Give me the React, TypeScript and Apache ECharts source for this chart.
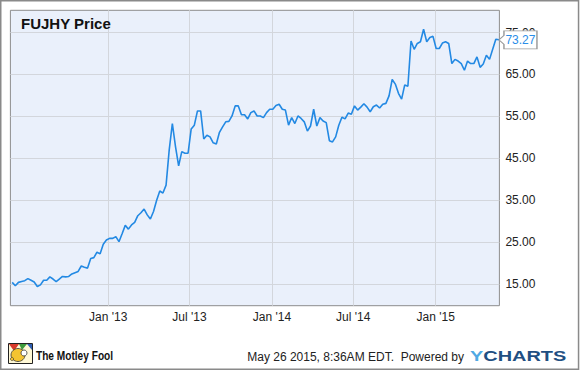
import React, { useEffect, useRef } from 'react';
import * as echarts from 'echarts';

// ---- data ----
const title = 'FUJHY Price';
const firstDate = '2012-06-01'; // weekly closes
const axisStart = '2012-05-28';
const axisEnd = '2015-05-23';
const prices = [
  15.4, 14.6, 15.4, 15.6, 15.8, 16.3, 15.9, 15.5, 14.4, 14.8,
  15.9, 15.9, 16.7, 16.2, 15.6, 16.2, 16.8, 16.7, 16.8, 17.4,
  17.7, 18.0, 19.3, 19.0, 18.8, 21.1, 21.3, 22.6, 22.2, 24.5,
  25.5, 25.9, 25.9, 26.3, 25.1, 27.0, 29.0, 28.1, 29.1, 29.7,
  31.3, 32.0, 32.9, 31.5, 30.5, 32.3, 35.0, 37.2, 36.7, 38.6,
  47.0, 53.3, 47.8, 43.2, 46.6, 46.2, 46.2, 52.0, 52.9, 56.3,
  56.3, 49.6, 50.5, 50.1, 48.7, 48.4, 51.2, 52.5, 53.7, 53.8,
  55.1, 57.5, 57.5, 55.4, 55.4, 54.4, 55.9, 56.3, 55.1, 55.1,
  54.7, 55.9, 56.7, 56.7, 57.6, 57.9, 56.7, 56.5, 52.9, 54.7,
  53.3, 55.1, 54.5, 53.7, 51.5, 52.7, 56.7, 52.7, 54.7, 53.9,
  53.5, 49.2, 48.9, 50.1, 52.9, 54.8, 54.4, 55.8, 55.5, 57.5,
  56.5, 57.2, 58.0, 57.2, 56.1, 57.3, 57.7, 57.0, 57.9, 58.1,
  59.9, 63.8, 62.7, 60.5, 59.1, 62.5, 62.2, 73.0, 71.0, 72.4,
  72.8, 75.8, 72.8, 73.8, 74.1, 71.2, 71.2, 72.5, 72.8, 72.4,
  67.6, 68.6, 68.2, 67.6, 66.0, 68.2, 67.6, 67.6, 69.2, 66.7,
  67.5, 69.6, 68.6, 71.0, 73.4, 73.27,
];
const xTickDates = ['2013-01-01', '2013-07-01', '2014-01-01', '2014-07-01', '2015-01-01'];
const xTickLabels = ["Jan '13", "Jul '13", "Jan '14", "Jul '14", "Jan '15"];
const yTicks = [15, 25, 35, 45, 55, 65, 75];
const yMin = 9.83;
const yMax = 80.31;
const lastLabel = '73.27';
const stampText = 'May 26 2015, 8:36AM EDT.  Powered by';
const foolText = 'The Motley Fool';

const DAY = 86400000;
const ts = (s: string) => {
  const [y, m, d] = s.split('-').map(Number);
  return Date.UTC(y, m - 1, d);
};

export default function App() {
  const ref = useRef<HTMLDivElement>(null);
  useEffect(() => {
    if (!ref.current) return;
    const chart = echarts.init(ref.current, undefined, { renderer: 'svg' });
    const t0 = ts(firstDate);
    const data = prices.map((v, i) => [t0 + i * 7 * DAY, v]);
    const last = data[data.length - 1];
    const xTicks = xTickDates.map(ts);
    const font = "Arial, 'Liberation Sans', sans-serif";

    chart.setOption({
      animation: false,
      backgroundColor: '#fff',
      title: {
        text: title,
        left: 21,
        top: 16,
        padding: 0,
        textStyle: { fontFamily: font, fontSize: 15, fontWeight: 'bold', color: '#111' },
      },
      grid: {
        left: 10.4,
        top: 10.3,
        width: 489,
        height: 295.4,
        show: true,
        backgroundColor: '#eaf0fb',
        borderColor: '#8d8d8d',
        borderWidth: 1,
      },
      xAxis: {
        type: 'value',
        min: ts(axisStart),
        max: ts(axisEnd),
        axisLine: { show: false },
        axisTick: { show: false, customValues: xTicks },
        splitLine: { show: true, lineStyle: { color: '#d3d6dc', width: 1 } },
        axisLabel: {
          customValues: xTicks,
          margin: 5,
          color: '#222',
          fontFamily: font,
          fontSize: 12,
          formatter: (v: number) => {
            const i = xTicks.indexOf(v);
            return i >= 0 ? xTickLabels[i] : '';
          },
        },
      },
      yAxis: {
        type: 'value',
        position: 'right',
        min: yMin,
        max: yMax,
        axisLine: { show: false },
        axisTick: { show: false, customValues: yTicks },
        splitLine: { show: true, lineStyle: { color: '#d3d6dc', width: 1 } },
        axisLabel: {
          customValues: yTicks,
          margin: 6,
          color: '#222',
          fontFamily: font,
          fontSize: 12,
          formatter: (v: number) => v.toFixed(2),
        },
      },
      series: [
        {
          type: 'line',
          data,
          showSymbol: false,
          symbol: 'none',
          lineStyle: { color: '#2389e3', width: 1.6 },
          markPoint: {
            silent: true,
            symbol: 'path://M0,9L5,4.5L5,0L38,0L38,18L5,18L5,13.5Z',
            symbolSize: [38, 18],
            symbolKeepAspect: false,
            symbolOffset: [19, 0],
            itemStyle: { color: '#fff', borderColor: '#9a9a9a', borderWidth: 1 },
            label: {
              show: true,
              position: 'inside',
              offset: [2.5, 0],
              formatter: lastLabel,
              color: '#2a8ee8',
              fontFamily: font,
              fontSize: 12,
            },
            data: [{ coord: last, value: last[1] }],
          },
        },
      ],
      graphic: [
        {
          type: 'rect',
          z: -1,
          silent: true,
          shape: { x: 10.9, y: 10.8, width: 114, height: 25.5 },
          style: { fill: 'rgba(255,255,255,0.55)' },
        },
        {
          type: 'rect',
          silent: true,
          shape: { x: 0.75, y: 0.75, width: 577.8, height: 368.5 },
          style: { fill: 'none', stroke: '#8a8a8a', lineWidth: 1.5 },
        },
        {
          type: 'group',
          silent: true,
          children: [
            { type: 'rect', shape: { x: 8.5, y: 343.5, width: 24, height: 20 }, style: { fill: '#fff8d6', stroke: '#222', lineWidth: 1 } },
            { type: 'polygon', shape: { points: [[9, 344], [19, 344], [14, 351]] }, style: { fill: '#d83a2c' } },
            { type: 'polygon', shape: { points: [[19, 344], [27, 344], [22, 350]] }, style: { fill: '#3d9b3b' } },
            { type: 'polygon', shape: { points: [[27, 344], [32, 344], [32, 350]] }, style: { fill: '#2f5fb3' } },
            { type: 'ellipse', shape: { cx: 18, cy: 355, rx: 7, ry: 6.5 }, style: { fill: '#f4c430', stroke: '#333', lineWidth: 0.8 } },
            { type: 'circle', shape: { cx: 24, cy: 353, r: 3 }, style: { fill: '#fff', stroke: '#333', lineWidth: 0.8 } },
            { type: 'circle', shape: { cx: 12, cy: 359, r: 1.6 }, style: { fill: '#f4c430', stroke: '#333', lineWidth: 0.6 } },
          ],
        },
        {
          type: 'text',
          silent: true,
          x: 36,
          y: 355,
          scaleX: 0.78,
          style: {
            text: foolText,
            fontFamily: font,
            fontSize: 13,
            fontWeight: 'bold',
            fill: '#111',
            verticalAlign: 'middle',
          },
        },
        {
          type: 'text',
          silent: true,
          x: 464,
          y: 357,
          style: {
            text: stampText,
            fontFamily: font,
            fontSize: 12,
            fill: '#222',
            align: 'right',
            verticalAlign: 'middle',
          },
        },
        {
          type: 'text',
          silent: true,
          x: 470,
          y: 356,
          scaleX: 1.33,
          style: {
            text: '{y|Y}{c|CHARTS}',
            verticalAlign: 'middle',
            rich: {
              y: { fontFamily: font, fontSize: 15, fontWeight: 'bold', fill: '#4fa9e4', color: '#4fa9e4' },
              c: { fontFamily: font, fontSize: 15, fontWeight: 'bold', fill: '#1f4f82', color: '#1f4f82' },
            },
          },
        },
      ],
    });
    return () => chart.dispose();
  }, []);
  return (
    <div
      ref={ref}
      style={{ position: 'fixed', left: 0, top: 0, width: 580, height: 371, background: '#fff' }}
    />
  );
}
